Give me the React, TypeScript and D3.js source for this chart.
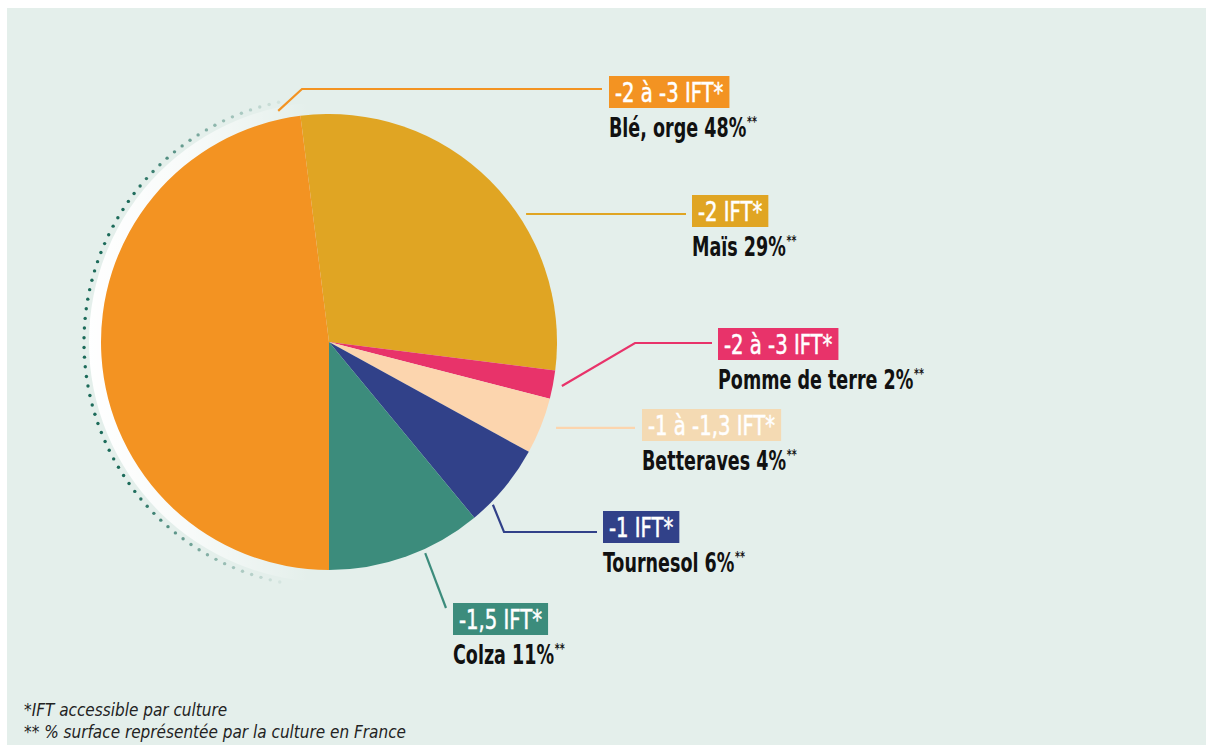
import React, { useEffect, useRef } from "react";
import * as d3 from "d3";

const crops = ["Maïs", "Pomme de terre", "Betteraves", "Tournesol", "Colza", "Blé, orge"];
const shares = [29, 2, 4, 6, 11, 48];
const iftLabels = ["-2 IFT*", "-2 à -3 IFT*", "-1 à -1,3 IFT*", "-1 IFT*", "-1,5 IFT*", "-2 à -3 IFT*"];
const sliceColors = ["#e0a523", "#e8336a", "#fcd5ae", "#314189", "#3c8c7c", "#f39322"];
const boxColors = ["#e0a523", "#e8336a", "#f4dab3", "#314189", "#3c8c7c", "#f39322"];
const footnotes = ["*IFT accessible par culture", "** % surface représentée par la culture en France"];

// layout (label anchors), index-aligned with crops
const layout = [
  { a: 57, r: 235, elbow: null as null | [number, number], endX: 686, bx: 692, by: 195 },
  { a: 100.7, r: 237, elbow: [635, 343] as [number, number], endX: 712, bx: 718, by: 328 },
  { a: 110.7, r: 242.7, elbow: null, endX: 635, bx: 642, by: 409 },
  { a: 134.8, r: 231, elbow: [504, 532] as [number, number], endX: 597, bx: 603, by: 511 },
  { a: 155.5, r: 232, elbow: [446, 608] as [number, number], endX: 446, bx: 453, by: 603 },
  { a: -12.4, r: 236.6, elbow: [302, 89] as [number, number], endX: 602, bx: 609, by: 76 },
];

const W = 1206, H = 745;
const CX = 329, CY = 342, R = 228;
const FONT = "'DejaVu Sans Condensed', 'DejaVu Sans', sans-serif";
const SX_NAME = 0.75;
const SX_IFT = 0.84;

export default function App() {
  const ref = useRef<SVGSVGElement | null>(null);
  useEffect(() => {
    const svg = d3.select(ref.current);
    svg.selectAll("*").remove();
    const defs = svg.append("defs");
    const grad = defs.append("linearGradient").attr("id", "glow")
      .attr("gradientUnits", "userSpaceOnUse")
      .attr("x1", CX - 245).attr("y1", CY).attr("x2", CX - 20).attr("y2", CY);
    grad.append("stop").attr("offset", 0).attr("stop-color", "#ffffff").attr("stop-opacity", 1);
    grad.append("stop").attr("offset", 0.45).attr("stop-color", "#ffffff").attr("stop-opacity", 0.75);
    grad.append("stop").attr("offset", 1).attr("stop-color", "#ffffff").attr("stop-opacity", 0);

    svg.append("rect").attr("width", W).attr("height", H).attr("fill", "#ffffff");
    svg.append("rect").attr("x", 7).attr("y", 8).attr("width", W - 7).attr("height", H - 8).attr("fill", "#e4efeb");

    // glow behind pie
    svg.append("circle").attr("cx", CX).attr("cy", CY).attr("r", R + 12).attr("fill", "url(#glow)");

    // dotted arc
    const deg = Math.PI / 180;
    const a0 = 191.6, a1 = 348.5;
    const arcR = 245;
    const step = (9.7 / arcR) / deg;
    const dots: number[] = [];
    for (let a = a0; a <= a1 + 0.01; a += step) dots.push(a);
    svg.append("g").selectAll("circle").data(dots).join("circle")
      .attr("cx", (a) => CX + arcR * Math.sin(a * deg))
      .attr("cy", (a) => CY - arcR * Math.cos(a * deg))
      .attr("r", 1.7)
      .attr("fill", "#1c6b5a")
      .attr("opacity", (a) => {
        const d = Math.min(a - a0, a1 - a);
        return Math.min(1, 0.08 + 0.92 * (d / 42));
      });

    // pie
    const pie = d3.pie<number>().sort(null).value((d) => d)
      .startAngle(-7.2 * deg).endAngle(-7.2 * deg + 2 * Math.PI);
    const arc = d3.arc<d3.PieArcDatum<number>>().innerRadius(0).outerRadius(R);
    svg.append("g").attr("transform", `translate(${CX},${CY})`)
      .selectAll("path").data(pie(shares)).join("path")
      .attr("d", arc as any)
      .attr("fill", (_, i) => sliceColors[i]);

    // labels
    crops.forEach((name, i) => {
      const L = layout[i];
      const sx = CX + L.r * Math.sin(L.a * deg);
      const sy = CY - L.r * Math.cos(L.a * deg);
      const pts: [number, number][] = [[sx, sy]];
      if (L.elbow) pts.push(L.elbow);
      if (L.endX !== pts[pts.length - 1][0]) pts.push([L.endX, pts[pts.length - 1][1]]);
      svg.append("path").attr("d", d3.line()(pts)).attr("fill", "none")
        .attr("stroke", sliceColors[i]).attr("stroke-width", 2.2);

      const g = svg.append("g");
      const box = g.append("rect").attr("x", L.bx).attr("y", L.by).attr("height", 32).attr("fill", boxColors[i]);
      const t = g.append("text")
        .attr("transform", `translate(${L.bx + 6},${L.by + 26}) scale(${SX_IFT},1)`)
        .attr("font-family", FONT).attr("font-size", 26).attr("fill", "#ffffff")
        .attr("stroke", "#ffffff").attr("stroke-width", 0.5)
        .text(iftLabels[i]);
      const tw = (t.node() as SVGTextElement).getComputedTextLength() * SX_IFT;
      box.attr("width", tw + 12);

      const nt = g.append("text")
        .attr("transform", `translate(${L.bx},${L.by + 61}) scale(${SX_NAME},1)`)
        .attr("font-family", FONT).attr("font-size", 26).attr("font-weight", "bold").attr("fill", "#111111");
      nt.append("tspan").text(`${name} ${shares[i]}%`);
      nt.append("tspan").attr("dy", -11).attr("dx", 1).attr("font-size", 14).text("**");
    });

    // footnotes
    svg.append("g").selectAll("text").data(footnotes).join("text")
      .attr("x", 24).attr("y", (_, i) => 716 + i * 22)
      .attr("font-family", "'DejaVu Sans Condensed', 'DejaVu Sans', sans-serif")
      .attr("font-style", "italic").attr("font-size", 17).attr("fill", "#222222")
      .text((d) => d);
  }, []);
  return (
    <svg ref={ref} width={W} height={H} style={{ position: "absolute", left: 0, top: 0, display: "block" }} />
  );
}
